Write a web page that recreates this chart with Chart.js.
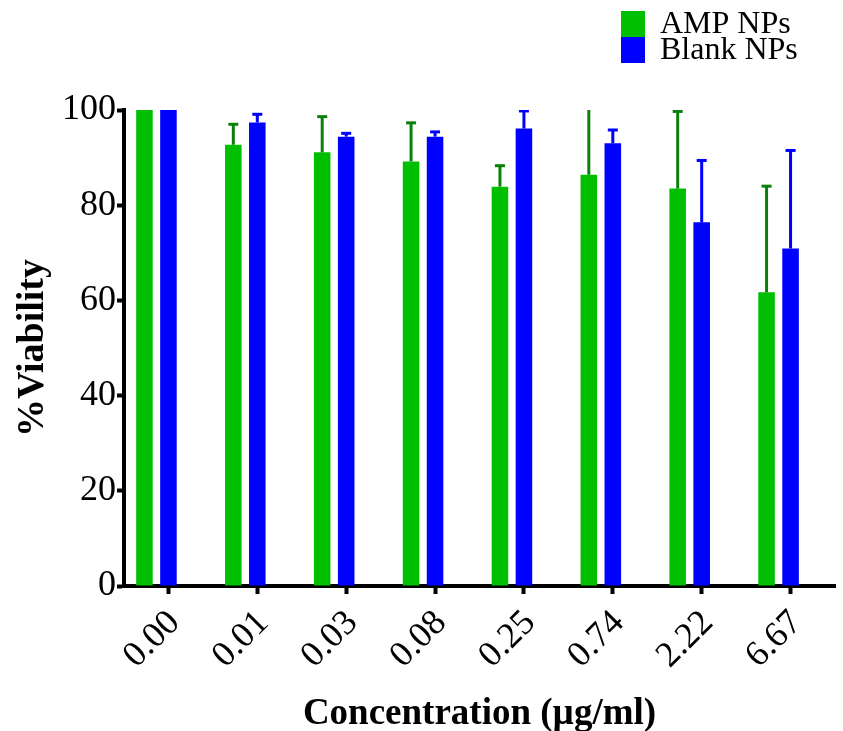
<!DOCTYPE html>
<html>
<head>
<meta charset="utf-8">
<script src="https://cdn.jsdelivr.net/npm/chart.js@4/dist/chart.umd.min.js"></script>
<style>
  html, body { margin: 0; padding: 0; background: #fff; }
  #wrap { width: 843px; height: 731px; }
</style>
</head>
<body>
<div id="wrap"><canvas id="bar-chart"></canvas></div>
<script>
var categories = ["0.00", "0.01", "0.03", "0.08", "0.25", "0.74", "2.22", "6.67"];
var ampMean = [100, 92.7, 91.1, 89.2, 83.9, 86.4, 83.5, 61.7];
var ampErr = [0, 4.3, 7.5, 8.1, 4.4, 16, 16.2, 22.3];
var blankMean = [100, 97.4, 94.4, 94.4, 96.1, 93.0, 76.4, 70.9];
var blankErr = [0, 1.7, 0.7, 1.0, 3.7, 2.8, 13.0, 20.6];
var yTicks = [0, 20, 40, 60, 80, 100];

var serif = "'Liberation Serif', 'Times New Roman', serif";
Chart.defaults.font.family = serif;
Chart.defaults.color = "#000";

// upward-only error bars, clipped to the plot area
var errorBars = {
  id: "errorBars",
  afterDatasetsDraw: function (chart) {
    var ctx = chart.ctx, y = chart.scales.y, area = chart.chartArea;
    ctx.save();
    ctx.beginPath();
    ctx.rect(area.left, area.top, area.right - area.left, area.bottom - area.top);
    ctx.clip();
    chart.data.datasets.forEach(function (ds, i) {
      if (!ds.errors) return;
      chart.getDatasetMeta(i).data.forEach(function (bar, j) {
        var e = ds.errors[j];
        if (!e) return;
        var top = y.getPixelForValue(ds.data[j] + e);
        ctx.strokeStyle = ds.errorColor;
        ctx.lineWidth = 3;
        ctx.beginPath();
        ctx.moveTo(bar.x, bar.y);
        ctx.lineTo(bar.x, top);
        ctx.stroke();
        ctx.beginPath();
        ctx.moveTo(bar.x - 5, top);
        ctx.lineTo(bar.x + 5, top);
        ctx.stroke();
      });
    });
    ctx.restore();
  }
};

var legendBox = {
  id: "legendBox",
  afterDraw: function (chart) {
    var ctx = chart.ctx;
    ctx.save();
    ctx.font = "32px " + serif;
    ctx.textBaseline = "middle";
    chart.data.datasets.filter(function (d) { return d.label; }).forEach(function (ds, i) {
      ctx.fillStyle = ds.backgroundColor;
      ctx.fillRect(621, 11 + i * 26, 24, 26);
      ctx.fillStyle = "#000";
      ctx.fillText(ds.label, 660, 25 + i * 26);
    });
    ctx.restore();
  }
};

new Chart(document.getElementById("bar-chart"), {
  type: "bar",
  data: {
    labels: categories,
    datasets: [
      { label: "AMP NPs", data: ampMean, errors: ampErr, backgroundColor: "#00bf00", errorColor: "#0a800a" },
      { label: "Blank NPs", data: blankMean, errors: blankErr, backgroundColor: "#0000ff", errorColor: "#0000ff" },
      { label: "", data: categories.map(function () { return null; }), backgroundColor: "rgba(0,0,0,0)" }
    ]
  },
  options: {
    responsive: true,
    maintainAspectRatio: false,
    animation: false,
    categoryPercentage: 0.81,
    barPercentage: 0.69,
    layout: { padding: { top: 110, right: 8, bottom: 0, left: 0 } },
    plugins: { legend: { display: false }, tooltip: { enabled: false } },
    scales: {
      x: {
        afterFit: function (s) { s.height = 145; },
        grid: { offset: false, drawOnChartArea: false, drawTicks: true, tickLength: 8, tickWidth: 4, tickColor: "#000" },
        border: { display: true, width: 4, color: "#000" },
        ticks: { font: { size: 36 }, minRotation: 45, maxRotation: 45, padding: 8, labelOffset: 6 },
        title: { display: true, text: "Concentration (\u00b5g/ml)", font: { size: 37, weight: "bold", lineHeight: 1 }, padding: { bottom: -2 } }
      },
      y: {
        min: 0,
        max: 100,
        afterFit: function (s) { s.width = 124; },
        afterBuildTicks: function (s) { s.ticks = yTicks.map(function (v) { return { value: v }; }); },
        grid: { drawOnChartArea: false, drawTicks: true, tickLength: 7, tickWidth: 4, tickColor: "#000" },
        border: { display: true, width: 4, color: "#000" },
        ticks: { font: { size: 36 }, padding: 1 },
        title: { display: true, text: "%Viability", font: { size: 38, weight: "bold", lineHeight: 1 }, padding: { top: 14 } }
      }
    }
  },
  plugins: [errorBars, legendBox]
});
</script>
</body>
</html>
